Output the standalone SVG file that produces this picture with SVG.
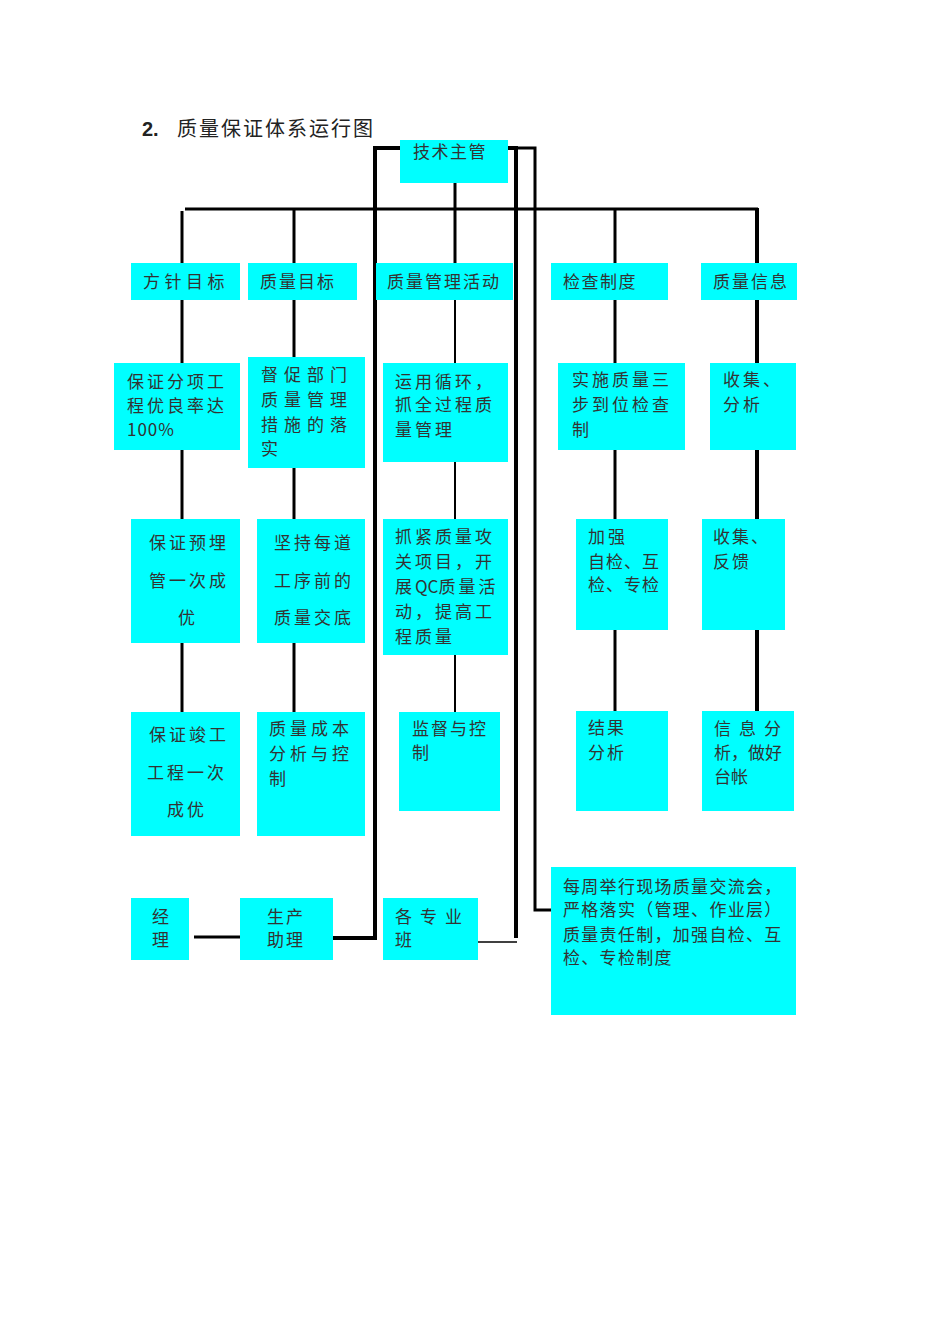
<svg xmlns="http://www.w3.org/2000/svg" width="950" height="1344" viewBox="0 0 950 1344">
<style>
.b{fill:#00FFFF;stroke:none}
.t{font-family:"Noto Sans CJK SC","Noto Sans CJK JP",sans-serif;font-size:17px;fill:#333333}
.c{stroke:#000;fill:none;stroke-width:3}
.k{stroke-width:4}
.n{stroke-width:2}
.h{stroke-width:1.5}
</style>
<rect width="950" height="1344" fill="#fff"/>
<text x="142" y="136" style="font-family:'Liberation Sans',sans-serif;font-size:20px;font-weight:bold;fill:#222">2.</text>
<text x="177" y="136" class="t" style="font-size:20px;letter-spacing:2px;fill:#222">质量保证体系运行图</text>

<g id="connectors">
<polyline class="c k" points="400,148 375,148 375,938 333,938"/>
<polyline class="c k" points="508,148 516,148 516,938"/>
<polyline class="c" points="516,148 535,148 535,910 551,910"/>
<line class="c h" x1="477" y1="942" x2="517" y2="942"/>
<line class="c" x1="194" y1="937" x2="240" y2="937"/>
<line class="c" x1="185" y1="209" x2="758" y2="209"/>
<line class="c" x1="182" y1="211" x2="182" y2="263"/>
<line class="c" x1="294" y1="209" x2="294" y2="263"/>
<line class="c" x1="455" y1="183" x2="455" y2="263"/>
<line class="c" x1="615" y1="209" x2="615" y2="263"/>
<line class="c k" x1="757" y1="208" x2="757" y2="263"/>
<line class="c" x1="182" y1="300" x2="182" y2="363"/>
<line class="c" x1="182" y1="450" x2="182" y2="519"/>
<line class="c" x1="182" y1="643" x2="182" y2="712"/>
<line class="c" x1="294" y1="300" x2="294" y2="357"/>
<line class="c" x1="294" y1="468" x2="294" y2="519"/>
<line class="c" x1="294" y1="643" x2="294" y2="712"/>
<line class="c n" x1="455" y1="300" x2="455" y2="363"/>
<line class="c n" x1="455" y1="462" x2="455" y2="519"/>
<line class="c n" x1="455" y1="655" x2="455" y2="712"/>
<line class="c" x1="615" y1="300" x2="615" y2="363"/>
<line class="c" x1="615" y1="450" x2="615" y2="519"/>
<line class="c" x1="615" y1="630" x2="615" y2="711"/>
<line class="c k" x1="757" y1="300" x2="757" y2="363"/>
<line class="c k" x1="757" y1="450" x2="757" y2="519"/>
<line class="c k" x1="757" y1="630" x2="757" y2="711"/>
</g>

<g id="n-jishu"><rect class="b" x="400" y="140" width="108" height="43"/><text class="t" x="413" y="158" style="letter-spacing:1.5px">技术主管</text></g>

<g id="n-fangzhen"><rect class="b" x="131" y="263" width="109" height="37"/><text class="t" x="143" y="288" style="letter-spacing:4.5px">方针目标</text></g>
<g id="n-zlmb"><rect class="b" x="248" y="263" width="109" height="37"/><text class="t" x="260" y="288" style="letter-spacing:2px">质量目标</text></g>
<g id="n-zlgl"><rect class="b" x="376" y="263" width="137" height="37"/><text class="t" x="387" y="288" style="letter-spacing:2px">质量管理活动</text></g>
<g id="n-jczd"><rect class="b" x="551" y="263" width="117" height="37"/><text class="t" x="563" y="288" style="letter-spacing:1.5px">检查制度</text></g>
<g id="n-zlxx"><rect class="b" x="701" y="263" width="96" height="37"/><text class="t" x="713" y="288" style="letter-spacing:2px">质量信息</text></g>

<g id="n-r2c1"><rect class="b" x="114" y="363" width="126" height="87"/><text class="t" style="letter-spacing:3px"><tspan x="127" y="388">保证分项工</tspan><tspan x="127" y="412">程优良率达</tspan><tspan x="127" y="436" style="letter-spacing:1px">100%</tspan></text></g>
<g id="n-r2c2"><rect class="b" x="248" y="357" width="117" height="111"/><text class="t" style="letter-spacing:6px"><tspan x="261" y="381">督促部门</tspan><tspan x="261" y="406">质量管理</tspan><tspan x="261" y="431">措施的落</tspan><tspan x="261" y="455">实</tspan></text></g>
<g id="n-r2c3"><rect class="b" x="383" y="363" width="125" height="99"/><text class="t" style="letter-spacing:3px"><tspan x="395" y="388">运用循环，</tspan><tspan x="395" y="411">抓全过程质</tspan><tspan x="395" y="436">量管理</tspan></text></g>
<g id="n-r2c4"><rect class="b" x="558" y="363" width="127" height="87"/><text class="t" style="letter-spacing:3px"><tspan x="572" y="386">实施质量三</tspan><tspan x="572" y="411">步到位检查</tspan><tspan x="572" y="436">制</tspan></text></g>
<g id="n-r2c5"><rect class="b" x="710" y="363" width="86" height="87"/><text class="t" style="letter-spacing:3px"><tspan x="723" y="386">收集、</tspan><tspan x="723" y="411">分析</tspan></text></g>

<g id="n-r3c1"><rect class="b" x="131" y="519" width="109" height="124"/><text class="t" style="letter-spacing:3px"><tspan x="149" y="549">保证预埋</tspan><tspan x="149" y="587">管一次成</tspan><tspan x="178" y="624">优</tspan></text></g>
<g id="n-r3c2"><rect class="b" x="257" y="519" width="108" height="124"/><text class="t" style="letter-spacing:3px"><tspan x="274" y="549">坚持每道</tspan><tspan x="274" y="587">工序前的</tspan><tspan x="274" y="624">质量交底</tspan></text></g>
<g id="n-r3c3"><rect class="b" x="383" y="519" width="125" height="136"/><text class="t" style="letter-spacing:3px"><tspan x="395" y="543">抓紧质量攻</tspan><tspan x="395" y="568">关项目，开</tspan><tspan x="395" y="593">展<tspan style="letter-spacing:0">QC</tspan>质量活</tspan><tspan x="395" y="618">动，提高工</tspan><tspan x="395" y="643">程质量</tspan></text></g>
<g id="n-r3c4"><rect class="b" x="576" y="519" width="92" height="111"/><text class="t" style="letter-spacing:1px"><tspan x="588" y="543" style="letter-spacing:3px">加强</tspan><tspan x="588" y="568">自检、互</tspan><tspan x="588" y="591">检、专检</tspan></text></g>
<g id="n-r3c5"><rect class="b" x="702" y="519" width="83" height="111"/><text class="t" style="letter-spacing:2px"><tspan x="713" y="543">收集、</tspan><tspan x="713" y="568">反馈</tspan></text></g>

<g id="n-r4c1"><rect class="b" x="131" y="712" width="109" height="124"/><text class="t" style="letter-spacing:3px"><tspan x="149" y="741">保证竣工</tspan><tspan x="147" y="779">工程一次</tspan><tspan x="167" y="816">成优</tspan></text></g>
<g id="n-r4c2"><rect class="b" x="257" y="712" width="108" height="124"/><text class="t" style="letter-spacing:4px"><tspan x="269" y="735">质量成本</tspan><tspan x="269" y="760">分析与控</tspan><tspan x="269" y="785">制</tspan></text></g>
<g id="n-r4c3"><rect class="b" x="399" y="712" width="101" height="99"/><text class="t" style="letter-spacing:2px"><tspan x="412" y="735">监督与控</tspan><tspan x="412" y="759">制</tspan></text></g>
<g id="n-r4c4"><rect class="b" x="576" y="711" width="92" height="100"/><text class="t" style="letter-spacing:2px"><tspan x="588" y="734">结果</tspan><tspan x="588" y="759">分析</tspan></text></g>
<g id="n-r4c5"><rect class="b" x="702" y="711" width="92" height="100"/><text class="t"><tspan x="714" y="735" style="letter-spacing:8px">信息分</tspan><tspan x="714" y="759">析，做好</tspan><tspan x="714" y="783">台帐</tspan></text></g>

<g id="n-jingli"><rect class="b" x="131" y="898" width="58" height="62"/><text class="t"><tspan x="152" y="923">经</tspan><tspan x="152" y="946">理</tspan></text></g>
<g id="n-scz"><rect class="b" x="240" y="898" width="93" height="62"/><text class="t" style="letter-spacing:2px"><tspan x="267" y="923">生产</tspan><tspan x="267" y="946">助理</tspan></text></g>
<g id="n-gzyb"><rect class="b" x="383" y="898" width="95" height="62"/><text class="t"><tspan x="395" y="923" style="letter-spacing:8px">各专业</tspan><tspan x="395" y="946">班</tspan></text></g>
<g id="n-meizhou"><rect class="b" x="551" y="867" width="245" height="148"/><text class="t" style="letter-spacing:1.3px"><tspan x="563" y="893">每周举行现场质量交流会，</tspan><tspan x="563" y="916">严格落实（管理、作业层）</tspan><tspan x="563" y="941">质量责任制，加强自检、互</tspan><tspan x="563" y="964">检、专检制度</tspan></text></g>
</svg>
